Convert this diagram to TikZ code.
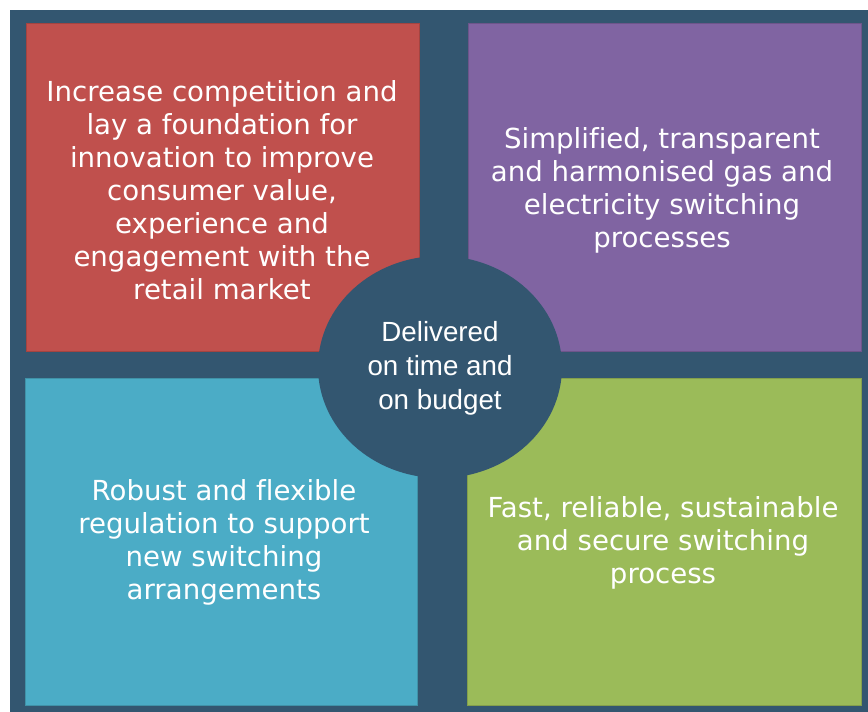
\documentclass[tikz,border=0pt]{standalone}
\usepackage{fontspec}
\setmainfont{DejaVu Sans}[Ligatures=NoCommon]
\newfontfamily\arialfont{Liberation Sans}
\usetikzlibrary{shapes.geometric}
\definecolor{bgdark}{HTML}{335670}
\definecolor{cred}{HTML}{C0504D}
\definecolor{cpurple}{HTML}{8064A2}
\definecolor{cblue}{HTML}{4BACC6}
\definecolor{cgreen}{HTML}{9BBB59}
\tikzset{
  qtext/.style={text=white, align=center, font=\fontsize{20.7}{24.8}\selectfont},
  ctext/.style={text=white, align=center, font=\arialfont\fontsize{20.8}{25.5}\selectfont},
}
\begin{document}
\begin{tikzpicture}[x=0.75pt,y=-0.75pt]
\useasboundingbox (0,0) rectangle (868,712);
\fill[bgdark] (10,10) rectangle (868,712);
\filldraw[fill=cred, draw=cred!85!black, line width=0.6pt] (26,23) rectangle (419,351);
\filldraw[fill=cpurple, draw=cpurple!85!black, line width=0.6pt] (468,23) rectangle (861,351);
\filldraw[fill=cblue, draw=cblue!85!black, line width=0.6pt] (25,378) rectangle (417,705);
\filldraw[fill=cgreen, draw=cgreen!85!black, line width=0.6pt] (467,378) rectangle (861,705);
\node[qtext] (red) at (222,190) {Increase competition and\\lay a foundation for\\innovation to improve\\consumer value,\\experience and\\engagement with the\\retail market};
\node[qtext] (purple) at (662,190) {Simplified, transparent\\and harmonised gas and\\electricity switching\\processes};
\node[qtext] (blue) at (224,542) {Robust and flexible\\regulation to support\\new switching\\arrangements};
\node[qtext] (green) at (663,543) {Fast, reliable, sustainable\\and secure switching\\process};
\fill[bgdark] (440,367) ellipse [x radius=122, y radius=111];
\node[ctext] (center) at (440,368) {Delivered\\on time and\\on budget};
\end{tikzpicture}
\end{document}
